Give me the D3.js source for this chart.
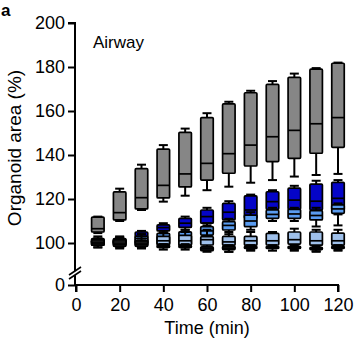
<!DOCTYPE html>
<html>
<head>
<meta charset="utf-8">
<script src="https://cdn.jsdelivr.net/npm/d3@7"></script>
<style>
  body { margin: 0; background: #fff; }
  svg { font-family: Arial, "Liberation Sans", sans-serif; }
</style>
</head>
<body>
<div id="chart"></div>
<script>
var width = 357
var height = 342

var times = [10, 20, 30, 40, 50, 60, 70, 80, 90, 100, 110, 120]
var xTicks = [0, 20, 40, 60, 80, 100, 120]
var yTicks = [0, 100, 120, 140, 160, 180, 200]

// box stats per series: min, q1, median, q3, max
var grayMin = [104.5, 110, 115, 118.8, 121.5, 124, 125.6, 127.4, 128.6, 130.2, 130.9, 131.4]
var grayQ1  = [105, 110.5, 115.5, 120.5, 125.5, 128.6, 131.7, 135, 137, 138.5, 140.8, 143.5]
var grayMed = [106.5, 113.8, 120.6, 126.2, 131.4, 136.2, 140.6, 144.5, 148.3, 151.2, 154.2, 157]
var grayQ3  = [111.8, 123.2, 133.8, 142.7, 150.3, 157, 163.2, 168.3, 172.1, 175.3, 179, 181.7]
var grayMax = [112, 124.7, 135.6, 144.5, 152, 159, 164.2, 169.2, 173.6, 177, 179.5, 182]

var dbMin = [99, 99, 101, 104.5, 106, 108, 109, 110, 114, 114, 113, 113]
var dbQ1  = [100, 100, 102, 105.5, 107.1, 109, 110.5, 111.2, 115.3, 115.3, 115, 115]
var dbMed = [101, 101, 103, 107, 109, 112, 114, 115, 118.8, 119.5, 119, 120.3]
var dbQ3  = [102, 102, 105, 108.2, 111.2, 115, 118, 121.4, 123.3, 124.9, 126.8, 127.6]
var dbMax = [103, 103, 105.5, 109, 112, 116, 119, 122, 124, 126, 128.3, 128.6]

var mbMin = [99, 98.5, 99, 98, 98, 102, 104, 106, 110, 110, 107.5, 108]
var mbQ1  = [100, 99.5, 100, 99.1, 99.1, 103.6, 105.9, 107.4, 111.2, 111.2, 110.5, 113.5]
var mbMed = [100.5, 100.5, 101, 101.5, 102, 105.5, 108, 110, 113, 113.2, 112.5, 115.5]
var mbQ3  = [101, 101.5, 103, 104.4, 105.1, 107.4, 109.7, 112.7, 115, 115.3, 114.7, 117.3]
var mbMax = [102, 102.5, 104, 105.5, 106, 109, 111, 114, 116, 116, 116, 118]

var lbMin = [98, 98, 98, 98.5, 98, 97, 96, 97, 97.6, 97, 96.3, 97]
var lbQ1  = [99, 99, 99, 99.5, 99, 99.1, 99, 99, 99.1, 99.5, 99, 99]
var lbMed = [100, 100, 101, 101, 101, 101.5, 100.5, 101, 101, 101.5, 101, 101]
var lbQ3  = [101, 101, 102, 103, 103.5, 102.9, 103, 103, 104.4, 105, 105, 104.5]
var lbMax = [102, 102, 104, 104.5, 105, 106, 105, 105, 105, 106.5, 106, 106]

var bkMin = [98, 97.5, 97.5, 97, 97, 96, 96, 96.5, 96.5, 96.5, 96, 96.5]
var bkQ1  = [99, 98.5, 98.5, 98, 98, 96.5, 97, 97.5, 97.5, 97.5, 97, 97.5]
var bkMed = [100, 99.5, 99.5, 98.5, 98.5, 97.5, 97.5, 98, 98, 98, 97.5, 98]
var bkQ3  = [101.5, 101.5, 101, 99, 99, 98.3, 98.5, 98.5, 98.5, 98.5, 98, 98.5]
var bkMax = [102, 102.5, 102, 99.5, 99.5, 98.5, 99, 99, 99, 99, 98.5, 99]

var series = [
    {name: "gray", fill: "#868686", min: grayMin, q1: grayQ1, med: grayMed, q3: grayQ3, max: grayMax},
    {name: "darkblue", fill: "#0505c8", min: dbMin, q1: dbQ1, med: dbMed, q3: dbQ3, max: dbMax},
    {name: "midblue", fill: "#5a9cf0", min: mbMin, q1: mbQ1, med: mbMed, q3: mbQ3, max: mbMax},
    {name: "lightblue", fill: "#9fc0ea", min: lbMin, q1: lbQ1, med: lbMed, q3: lbQ3, max: lbMax},
    {name: "black", fill: "#151515", min: bkMin, q1: bkQ1, med: bkMed, q3: bkQ3, max: bkMax}
]

var svg = d3.select("#chart").append("svg").attr("width", width).attr("height", height)

var x = d3.scaleLinear().domain([0, 120]).range([76, 338])
// broken axis: 0 at the bottom, 100..200 in the upper part
var y = d3.scaleLinear().domain([0, 92, 200]).range([285, 260.6, 23])

var boxW = 12.5
var capW = 9

series.forEach(function(s){
    var g = svg.append("g").attr("class", s.name)
    var rows = times.map(function(t, i){
        return {t: t, min: s.min[i], q1: s.q1[i], med: s.med[i], q3: s.q3[i], max: s.max[i]}
    })
    var b = g.selectAll("g").data(rows).enter().append("g")
    // whiskers
    b.append("line")
        .attr("x1", d => x(d.t)).attr("x2", d => x(d.t))
        .attr("y1", d => y(d.max)).attr("y2", d => y(d.min))
        .attr("stroke", "#000").attr("stroke-width", 2)
    b.append("line")
        .attr("x1", d => x(d.t) - capW/2).attr("x2", d => x(d.t) + capW/2)
        .attr("y1", d => y(d.max)).attr("y2", d => y(d.max))
        .attr("stroke", "#000").attr("stroke-width", 2)
    b.append("line")
        .attr("x1", d => x(d.t) - capW/2).attr("x2", d => x(d.t) + capW/2)
        .attr("y1", d => y(d.min)).attr("y2", d => y(d.min))
        .attr("stroke", "#000").attr("stroke-width", 2)
    // box
    b.append("rect")
        .attr("x", d => x(d.t) - boxW/2)
        .attr("y", d => y(d.q3))
        .attr("width", boxW)
        .attr("height", d => Math.max(1, y(d.q1) - y(d.q3)))
        .attr("fill", s.fill)
        .attr("stroke", "#000").attr("stroke-width", 1.7)
        .attr("rx", 1)
    b.append("line")
        .attr("x1", d => x(d.t) - boxW/2).attr("x2", d => x(d.t) + boxW/2)
        .attr("y1", d => y(d.med)).attr("y2", d => y(d.med))
        .attr("stroke", "#000").attr("stroke-width", 1.7)
})

// axes
var yAxis = d3.axisLeft(y).tickValues(yTicks).tickSize(7).tickPadding(3)
var xAxis = d3.axisBottom(x).tickValues(xTicks).tickSize(7).tickPadding(6)

var gy = svg.append("g").attr("transform", "translate(75,0)").call(yAxis)
var gx = svg.append("g").attr("transform", "translate(0,285)").call(xAxis)

;[gy, gx].forEach(function(g){
    g.select(".domain").attr("stroke", "#000").attr("stroke-width", 2)
    g.selectAll(".tick line").attr("stroke", "#000").attr("stroke-width", 2)
    g.selectAll("text").attr("font-size", 18).attr("fill", "#000")
        .attr("font-family", "Arial, 'Liberation Sans', sans-serif")
})
gy.select(".domain").attr("d", "M-7,23H0V285")
gx.select(".domain").attr("d", "M76,7V0H338V7")

// axis break
var brk = svg.append("g").attr("transform", "translate(75,273)")
brk.append("polygon").attr("points", "-5,2 5,-5 5,-1 -5,6").attr("fill", "#fff")
brk.append("line").attr("x1", -6).attr("y1", 2).attr("x2", 6).attr("y2", -6)
    .attr("stroke", "#000").attr("stroke-width", 1.6)
brk.append("line").attr("x1", -6).attr("y1", 6).attr("x2", 6).attr("y2", -2)
    .attr("stroke", "#000").attr("stroke-width", 1.6)

// labels
svg.append("text").attr("x", 1).attr("y", 16).text("a")
    .attr("font-size", 17).attr("font-weight", "bold")
svg.append("text").attr("x", 93).attr("y", 48).text("Airway")
    .attr("font-size", 17)
svg.append("text").attr("x", 207).attr("y", 334).text("Time (min)")
    .attr("font-size", 18).attr("text-anchor", "middle")
svg.append("text")
    .attr("transform", "translate(21,148) rotate(-90)")
    .text("Organoid area (%)")
    .attr("font-size", 19).attr("text-anchor", "middle")
</script>
</body>
</html>
